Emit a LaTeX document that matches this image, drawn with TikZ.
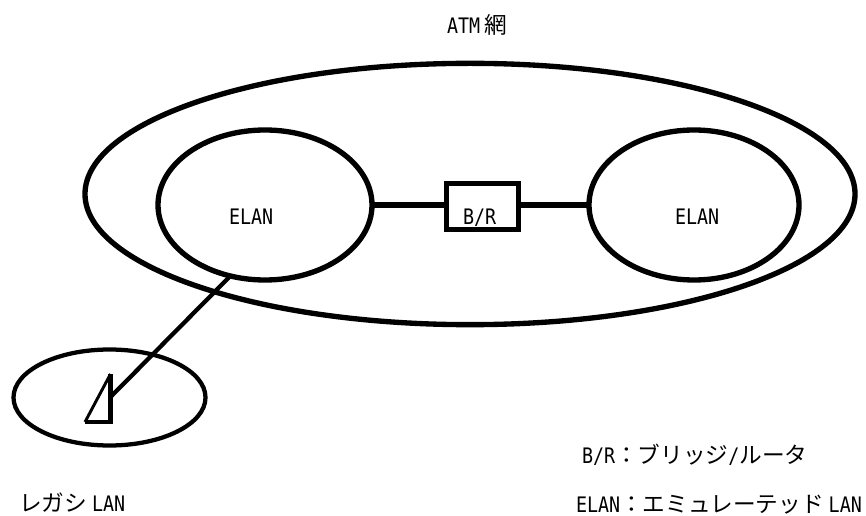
\documentclass[tikz,border=0pt]{standalone}
\usepackage{fontspec}
\usetikzlibrary{shapes.geometric}
\newfontfamily\jpf{Noto Sans CJK JP}
\newfontfamily\latf[FakeStretch=0.86]{DejaVu Sans Mono}
\newcommand{\JP}[1]{{\jpf\fontsize{17pt}{18pt}\selectfont #1}}
\newcommand{\LT}[1]{{\latf\fontsize{16pt}{18pt}\selectfont #1}}
\tikzset{
  ring/.style={draw=black,ellipse,line width=4pt,inner sep=0pt,outer sep=0pt,fill=none},
  linkline/.style={draw=black,line width=4.6pt},
  lbl/.style={anchor=base west,inner sep=0pt,outer sep=0pt,text=black},
}
\begin{document}
\begin{tikzpicture}[x=0.75pt,y=-0.75pt]
\useasboundingbox (0,0) rectangle (866,516);
\node[ring,minimum width=577.5pt,minimum height=196pt] (atm) at (470,194) {};
\node[ring,minimum width=160.5pt,minimum height=112.5pt] (elanL) at (265,205) {};
\node[ring,minimum width=157.5pt,minimum height=112.5pt] (elanR) at (694,205) {};
\node[draw=black,line width=4pt,inner sep=0pt,outer sep=0pt,minimum width=54pt,minimum height=34.5pt] (br) at (482.5,206.5) {};
\node[ring,line width=3.2pt,minimum width=144pt,minimum height=72pt] (lan) at (109.5,397.5) {};
\draw[linkline] (elanL.east) -- (elanL.east -| br.west);
\draw[linkline] (elanR.west -| br.east) -- (elanR.west);
\coordinate (triTop) at (110.5,374);
\coordinate (triMid) at (110.5,397);
\coordinate (triCorner) at (110.5,422);
\coordinate (triLeft) at (85,422);
\draw[draw=black,line width=3.2pt] (elanL.244) -- (triMid);
\draw[line width=2.2pt,line join=bevel] (triTop) -- (triLeft);
\draw[line width=3.6pt] (triTop) -- (triCorner) -- (triLeft);
\node[lbl] (tAtm) at (447,34) {\LT{ATM}\hspace{3.5pt}\JP{網}};
\node[lbl] (tL) at (229,225) {\LT{ELAN}};
\node[lbl] (tR) at (675,225) {\LT{ELAN}};
\node[lbl] (tB) at (463,225) {\LT{B/R}};
\node[lbl] (tLeg) at (19,511) {\JP{レガシ}\hspace{3.75pt}\LT{LAN}};
\node[lbl] (tK1) at (582,463) {\LT{B/R}\JP{：ブリッジ}\LT{/}\JP{ルータ}};
\node[lbl] (tK2) at (576,512) {\LT{ELAN}\JP{：エミュレーテッド}\hspace{3.75pt}\LT{LAN}};
\end{tikzpicture}
\end{document}
